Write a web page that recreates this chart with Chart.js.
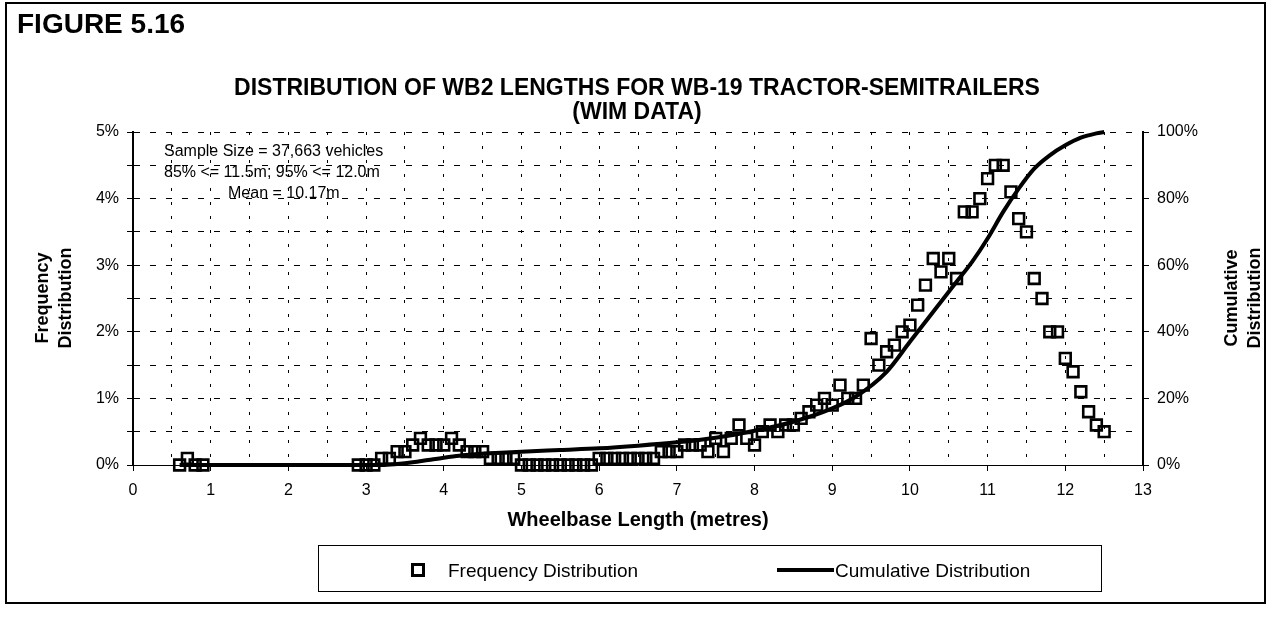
<!DOCTYPE html>
<html><head><meta charset="utf-8">
<script src="https://cdn.jsdelivr.net/npm/chart.js@4.4.1/dist/chart.umd.min.js"></script>
<style>
html,body{margin:0;padding:0;background:#fff;overflow:hidden;}
#wrap{position:relative;width:1274px;height:619px;font-family:"Liberation Sans",Arial,Helvetica,sans-serif;color:#000;}
canvas{position:absolute;left:0;top:0;}
.abs{position:absolute;white-space:nowrap;line-height:1;}
#frame{position:absolute;left:5px;top:2px;width:1261px;height:602px;border:2px solid #000;box-sizing:border-box;}
#fig{left:17px;top:10px;font-size:28px;font-weight:bold;}
.title{left:0;width:1274px;text-align:center;font-size:23px;font-weight:bold;}
.ytitle{font-size:18px;font-weight:bold;text-align:center;line-height:23px;transform:translate(-50%,-50%) rotate(-90deg);}
.note{font-size:16px;}
#legend{position:absolute;left:318px;top:545px;width:784px;height:47px;border:1px solid #000;box-sizing:border-box;}
.leg{font-size:19px;}
</style></head>
<body><div id="wrap">
<canvas id="c" width="1274" height="619"></canvas>
<div id="frame"></div>
<div class="abs" id="fig">FIGURE 5.16</div>
<div class="abs title" style="top:76px">DISTRIBUTION OF WB2 LENGTHS FOR WB-19 TRACTOR-SEMITRAILERS</div>
<div class="abs title" style="top:100px">(WIM DATA)</div>
<div class="abs ytitle" style="left:54px;top:298px">Frequency<br>Distribution</div>
<div class="abs ytitle" style="left:1243px;top:298px">Cumulative<br>Distribution</div>
<div class="abs note" style="left:164px;top:143px">Sample Size = 37,663 vehicles</div>
<div class="abs note" style="left:164px;top:164px">85% &lt;= 11.5m; 95% &lt;= 12.0m</div>
<div class="abs note" style="left:228px;top:185px">Mean = 10.17m</div>
<div id="legend"></div>
<div class="abs" style="left:411px;top:563px;width:14px;height:14px;border:3px solid #000;box-sizing:border-box;"></div>
<div class="abs leg" style="left:448px;top:561px">Frequency Distribution</div>
<div class="abs" style="left:777px;top:568px;width:57px;height:4px;background:#000;"></div>
<div class="abs leg" style="left:835px;top:561px">Cumulative Distribution</div>
</div>
<script>
// Frequency distribution (wheelbase length in metres, % of vehicles)
const freqLengths = [0.6,0.7,0.8,0.9,
 2.9,3.0,3.1,3.2,3.3,3.4,3.5,3.6,3.7,3.8,3.9,4.0,4.1,4.2,4.3,4.4,4.5,4.6,4.7,4.8,4.9,
 5.0,5.1,5.2,5.3,5.4,5.5,5.6,5.7,5.8,5.9,6.0,6.1,6.2,6.3,6.4,6.5,6.6,6.7,6.8,6.9,
 7.0,7.1,7.2,7.3,7.4,7.5,7.6,7.7,7.8,7.9,8.0,8.1,8.2,8.3,8.4,8.5,8.6,8.7,8.8,8.9,
 9.0,9.1,9.2,9.3,9.4,9.5,9.6,9.7,9.8,9.9,10.0,10.1,10.2,10.3,10.4,10.5,10.6,10.7,10.8,10.9,
 11.0,11.1,11.2,11.3,11.4,11.5,11.6,11.7,11.8,11.9,12.0,12.1,12.2,12.3,12.4,12.5];
const freqPercent = [0,0.1,0,0,
 0,0,0,0.1,0.1,0.2,0.2,0.3,0.4,0.3,0.3,0.3,0.4,0.3,0.2,0.2,0.2,0.1,0.1,0.1,0.1,
 0,0,0,0,0,0,0,0,0,0,0.1,0.1,0.1,0.1,0.1,0.1,0.1,0.1,0.2,0.2,
 0.2,0.3,0.3,0.3,0.2,0.4,0.2,0.4,0.6,0.4,0.3,0.5,0.6,0.5,0.6,0.6,0.7,0.8,0.9,1.0,
 0.9,1.2,1.0,1.0,1.2,1.9,1.5,1.7,1.8,2.0,2.1,2.4,2.7,3.1,2.9,3.1,2.8,3.8,3.8,4.0,
 4.3,4.5,4.5,4.1,3.7,3.5,2.8,2.5,2.0,2.0,1.6,1.4,1.1,0.8,0.6,0.5];
// Cumulative distribution (%)
const cumLengths = [0.6,1,2,3,3.2,3.4,3.6,3.8,4.0,4.2,4.4,4.6,5.0,5.5,6.0,6.5,7.0,7.5,8.0,8.5,9.0,9.3,9.7,10.0,10.2,10.4,10.6,10.8,11.0,11.2,11.4,11.6,11.8,12.0,12.2,12.4,12.5];
const cumPercent = [0,0,0,0,0,0.3,0.8,1.5,2.2,2.8,3.2,3.5,4.0,4.5,5.0,5.8,6.8,8.2,10.3,13.0,17.0,20.5,28,37,43,49,55,61,68,76,83,89,93,96,98.3,99.6,100];
// Tick labels
const xTickLabels = ['0','1','2','3','4','5','6','7','8','9','10','11','12','13'];
const leftTickLabels = ['0%','1%','2%','3%','4%','5%'];
const rightTickLabels = ['0%','20%','40%','60%','80%','100%'];

const freqData = freqLengths.map((x,i)=>({x:x,y:freqPercent[i]}));
const cumData = cumLengths.map((x,i)=>({x:x,y:cumPercent[i]}));
const isInt = v => Math.abs(v - Math.round(v)) < 1e-6;
const tickFont = {family:'"Liberation Sans", Arial, sans-serif', size:16};

new Chart(document.getElementById('c'), {
  type:'scatter',
  data:{datasets:[
    {label:'Frequency Distribution', data:freqData, yAxisID:'y', showLine:false,
     pointStyle:'rect', pointRadius:7.6, pointHoverRadius:7.6, pointBorderWidth:2.6,
     pointBorderColor:'#000', pointBackgroundColor:'rgba(0,0,0,0)', borderColor:'#000', backgroundColor:'rgba(0,0,0,0)', clip:false, order:2},
    {label:'Cumulative Distribution', type:'line', data:cumData, yAxisID:'y1', showLine:true,
     borderColor:'#000', borderWidth:4, pointRadius:0, fill:false, cubicInterpolationMode:'monotone', clip:false, order:1}
  ]},
  options:{
    responsive:false, animation:false, devicePixelRatio:1,
    layout:{padding:{top:132,bottom:84,left:0,right:0}},
    plugins:{legend:{display:false}, tooltip:{enabled:false}, title:{display:false}},
    scales:{
      x:{type:'linear', min:0, max:13, position:'bottom',
         afterFit:s=>{s.height=70;},
         ticks:{stepSize:0.5, autoSkip:false, maxRotation:0, padding:10, color:'#000', font:tickFont,
                callback:v=> isInt(v) ? xTickLabels[Math.round(v)] : ''},
         grid:{color:'#000', lineWidth:1, tickLength:6,
               tickColor:ctx=> (ctx.tick && isInt(ctx.tick.value)) ? '#000' : 'rgba(0,0,0,0)'},
         border:{display:true, color:'#000', width:1, dash:[3,11]},
         title:{display:true, text:'Wheelbase Length (metres)', color:'#000',
                font:{family:'"Liberation Sans", Arial, sans-serif', size:20, weight:'bold'}, padding:{top:0,bottom:3}}},
      y:{type:'linear', min:0, max:5, position:'left',
         afterFit:s=>{s.width=133;},
         ticks:{stepSize:0.5, padding:8, color:'#000', font:tickFont,
                callback:v=> isInt(v) ? leftTickLabels[Math.round(v)] : ''},
         grid:{color:'#000', lineWidth:1, tickLength:6},
         border:{display:true, color:'#000', width:2, dash:[6,10]}},
      y1:{type:'linear', min:0, max:100, position:'right',
         afterFit:s=>{s.width=131;},
         ticks:{stepSize:20, padding:8, color:'#000', font:tickFont,
                callback:v=> rightTickLabels[Math.round(v/20)]},
         grid:{drawOnChartArea:false, color:'#000', tickLength:6},
         border:{display:true, color:'#000', width:2}}
    }
  }
});
</script>
</body></html>
